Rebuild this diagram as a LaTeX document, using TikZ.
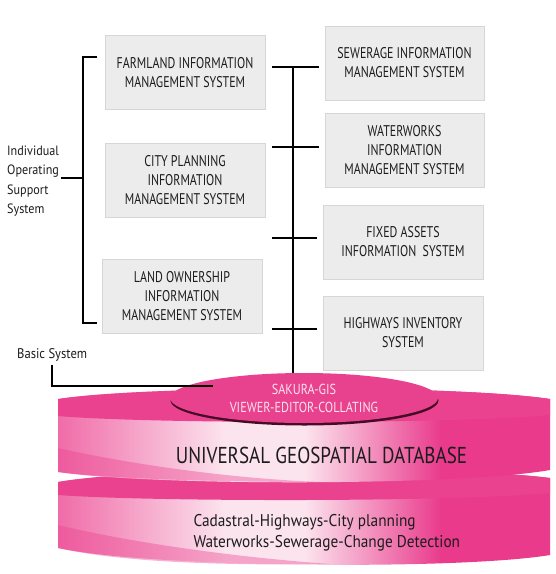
\documentclass[tikz,border=0pt]{standalone}
\usepackage{fontspec}
\setmainfont{PT Sans}
\newfontfamily\capfont{PT Sans}[FakeStretch=0.77]
\newfontfamily\gisfont{PT Sans}[FakeStretch=0.84]
\newfontfamily\dbfont{PT Sans}[FakeStretch=0.83]
\newfontfamily\txtfont{PT Sans}[FakeStretch=0.9]
\usepackage{tikz}
\usetikzlibrary{calc,positioning,shapes.geometric,shadows}
\usepackage{xcolor}
\definecolor{boxgray}{RGB}{236,236,236}
\definecolor{boxline}{RGB}{214,214,214}
\definecolor{inkgray}{RGB}{28,28,28}
\definecolor{dbpinkL}{RGB}{240,108,168}
\definecolor{dbpinkR}{RGB}{233,58,140}
\definecolor{dblight}{RGB}{252,228,238}
\definecolor{dbcap}{RGB}{235,66,143}
\definecolor{dbcapmid}{RGB}{242,112,170}
\definecolor{gispink}{RGB}{232,66,142}
\definecolor{gistext}{RGB}{253,226,238}
\definecolor{gisshadow}{RGB}{70,12,38}
\pgfdeclarehorizontalshading{dbside}{100bp}{color(0bp)=(dbpinkL); color(25bp)=(dbpinkL);
  color(42bp)=(dblight); color(50bp)=(dblight); color(64bp)=(dbpinkR); color(100bp)=(dbpinkR)}

\begin{document}
\begin{tikzpicture}[x=1pt, y=-1pt,
  every node/.style={font=\capfont\fontsize{15.5}{19}\selectfont, text=inkgray},
  sysbox/.style={draw=boxline, fill=boxgray, minimum width=160pt, minimum height=74pt, align=center, inner sep=2pt},
  link/.style={line width=1.6pt},
  dbbody/.style={shading=dbside},
  dbtop/.style={left color=dbcap, middle color=dbcapmid, right color=dbcap},
  dblens/.style={fill=dbcap, opacity=0.4}]
  \useasboundingbox (0,0) rectangle (556,574);

  % Database disks
  \shade[dbbody] (58,482) .. controls (150,466) and (458,466) .. (550,478) -- (550,555) .. controls (460,570) and (150,568) .. (58,548) -- cycle;
  \shade[dbtop] (58,482) .. controls (150,466) and (458,466) .. (550,478) -- (550,493) .. controls (458,502) and (150,502) .. (58,495) -- cycle;
  \fill[dblens] (58,525) .. controls (120,540) and (220,556) .. (330,564) .. controls (200,566) and (110,560) .. (58,548) -- cycle;

  \shade[dbbody] (58,399) .. controls (150,385) and (458,385) .. (550,399) -- (550,470) .. controls (460,486) and (150,486) .. (58,472) -- cycle;
  \shade[dbtop] (58,399) .. controls (150,385) and (458,385) .. (550,399) -- (550,415) .. controls (458,424) and (150,424) .. (58,416) -- cycle;
  \fill[dblens] (58,448) .. controls (120,462) and (220,478) .. (320,482) .. controls (200,482) and (110,478) .. (58,472) -- cycle;

  \node[font=\dbfont\fontsize{23}{27}\selectfont] (ugd) at (321.5,455) {UNIVERSAL GEOSPATIAL DATABASE};
  \node[anchor=west, align=left, font=\txtfont\fontsize{17}{21}\selectfont] (layers) at (190,533) {Cadastral-Highways-City planning\\Waterworks-Sewerage-Change Detection};

  % Viewer
  \node[ellipse, minimum width=268pt, minimum height=50pt, inner sep=0pt, fill=gispink, align=center, text=gistext,
        drop shadow={shadow xshift=0.5pt, shadow yshift=-2.5pt, fill=gisshadow, opacity=1},
        font=\gisfont\fontsize{14.5}{18}\selectfont] (gis) at (304,398) {SAKURA-GIS\\VIEWER-EDITOR-COLLATING};

  % Individual systems
  \node[sysbox] (farm) at (185,72.5) {FARMLAND INFORMATION\\MANAGEMENT SYSTEM};
  \node[sysbox] (city) at (185,180) {CITY PLANNING\\INFORMATION\\MANAGEMENT SYSTEM};
  \node[sysbox] (land) at (182,296) {LAND OWNERSHIP\\INFORMATION\\MANAGEMENT SYSTEM};
  \node[sysbox, minimum width=159pt] (sew) at (404.5,63) {SEWERAGE INFORMATION\\MANAGEMENT SYSTEM};
  \node[sysbox, minimum width=159pt] (water) at (404.5,150) {WATERWORKS\\INFORMATION\\MANAGEMENT SYSTEM};
  \node[sysbox] (fixed) at (403,242) {FIXED ASSETS\\INFORMATION\ \ SYSTEM};
  \node[sysbox] (hwy) at (403,333) {HIGHWAYS INVENTORY\\SYSTEM};

  % Bus
  \coordinate (ttop) at (293,67);
  \draw[link] (ttop) -- (ttop |- gis.north);
  \foreach \y/\sysn in {67/sew, 147/water, 238/fixed, 329/hwy} {
    \coordinate (r) at (272,\y);
    \draw[link, shorten >=6pt] (r) -- (r -| \sysn.west);
  }

  % Labels
  \node[anchor=west, align=left, inner sep=2pt, font=\txtfont\fontsize{13.5}{19.2}\selectfont] (indiv) at (5,181) {Individual\\Operating\\Support\\System};
  \coordinate (bk1) at (97,57);
  \coordinate (bk2) at (97,323);
  \coordinate (bkm) at (83,178);
  \draw[link] (bk1) -- ++(-14,0) |- (bk2);
  \draw[link] (indiv.east |- bkm) -- (bkm);

  \node[anchor=west, inner sep=3pt, font=\txtfont\fontsize{14}{18}\selectfont] (bsys) at (14,355) {Basic System};
  \coordinate (gisin) at (213,386);
  \draw[link] (bsys.south) |- (gisin);
\end{tikzpicture}
\end{document}
